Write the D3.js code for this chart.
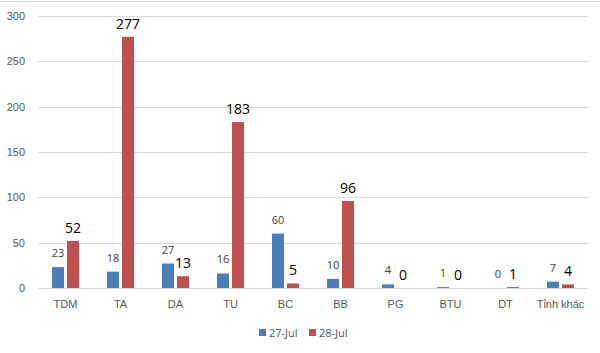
<!DOCTYPE html>
<html>
<head>
<meta charset="utf-8">
<script src="https://cdn.jsdelivr.net/npm/d3@7"></script>
<style>
  body { margin: 0; background: #fff; }
  svg { display: block; font-family: "Open Sans", "Liberation Sans", sans-serif; }
</style>
</head>
<body>
<svg id="chart" width="600" height="353"></svg>
<script>
var categories = ["TDM", "TA", "DA", "TU", "BC", "BB", "PG", "BTU", "DT", "Tỉnh khác"];
var jul27 = [23, 18, 27, 16, 60, 10, 4, 1, 0, 7];
var jul28 = [52, 277, 13, 183, 5, 96, 0, 0, 1, 4];
var seriesNames = ["27-Jul", "28-Jul"];
var yTicks = [0, 50, 100, 150, 200, 250, 300];

var colors = ["#4a7ebb", "#c0504d"];

var svg = d3.select("#chart");
var margin = {top: 16, right: 12, bottom: 65, left: 38};
var width = +svg.attr("width") - margin.left - margin.right;
var height = +svg.attr("height") - margin.top - margin.bottom;

// top edge line
svg.append("line")
    .attr("x1", 0).attr("x2", 600)
    .attr("y1", 1.5).attr("y2", 1.5)
    .attr("stroke", "#d9d9d9");

var g = svg.append("g").attr("transform", "translate(" + margin.left + "," + margin.top + ")");

var x = d3.scaleBand().domain(categories).range([0, width]);
var x1 = d3.scaleBand().domain(seriesNames).range([14, x.bandwidth() - 14]).paddingInner(0.2);
var y = d3.scaleLinear().domain([0, 300]).range([height, 0]);

// gridlines
g.append("g").selectAll("line").data(yTicks).enter().append("line")
    .attr("x1", 0).attr("x2", width)
    .attr("y1", function(d) { return Math.round(y(d)) + 0.5; })
    .attr("y2", function(d) { return Math.round(y(d)) + 0.5; })
    .attr("stroke", "#d9d9d9");

// y axis labels
var yAxis = g.append("g").call(d3.axisLeft(y).tickValues(yTicks).tickSize(0).tickPadding(13));
yAxis.select(".domain").remove();
yAxis.selectAll("text").attr("fill", "#595959").style("font-size", "11px");

// x axis labels
var xAxis = g.append("g").attr("transform", "translate(0," + height + ")")
    .call(d3.axisBottom(x).tickSize(0).tickPadding(12));
xAxis.select(".domain").remove();
xAxis.selectAll("text").attr("fill", "#595959").style("font-size", "11px");

var data = categories.map(function(c, i) {
    return {cat: c, vals: [{s: seriesNames[0], v: jul27[i], k: 0}, {s: seriesNames[1], v: jul28[i], k: 1}]};
});

var groups = g.append("g").selectAll("g").data(data).enter().append("g")
    .attr("transform", function(d) { return "translate(" + x(d.cat) + ",0)"; });

groups.selectAll("rect").data(function(d) { return d.vals; }).enter().append("rect")
    .attr("x", function(d) { return x1(d.s); })
    .attr("width", x1.bandwidth())
    .attr("y", function(d) { return y(d.v); })
    .attr("height", function(d) { return height - y(d.v); })
    .attr("fill", function(d) { return colors[d.k]; });

groups.selectAll("text").data(function(d) { return d.vals; }).enter().append("text")
    .attr("x", function(d) { return x1(d.s) + x1.bandwidth() / 2; })
    .attr("y", function(d) { return y(d.v) - (d.k === 0 ? 10 : 8); })
    .attr("text-anchor", "middle")
    .attr("fill", function(d) { return d.k === 0 ? "#404040" : "#000"; })
    .style("font-size", function(d) { return d.k === 0 ? "11px" : "14px"; })
    .text(function(d) { return d.v; });

// legend
var legend = svg.append("g").attr("transform", "translate(0,333)");
var legendX = [259, 309];
seriesNames.forEach(function(s, i) {
    legend.append("rect")
        .attr("x", legendX[i]).attr("y", -4)
        .attr("width", 7).attr("height", 7)
        .attr("fill", colors[i]);
    legend.append("text")
        .attr("x", legendX[i] + 10).attr("y", 4)
        .attr("fill", "#595959")
        .style("font-size", "11px")
        .text(s);
});
</script>
</body>
</html>
